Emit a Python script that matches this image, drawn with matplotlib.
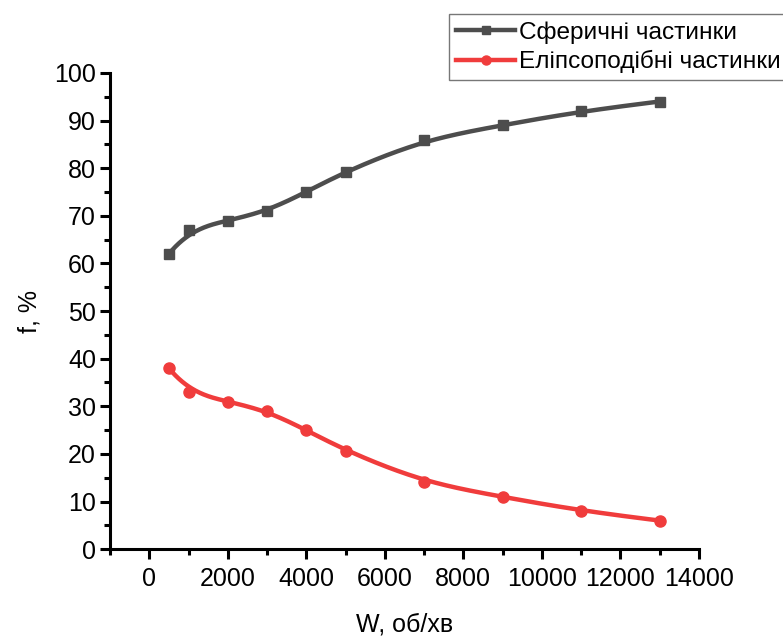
import matplotlib.pyplot as plt
import numpy as np
from matplotlib.ticker import MultipleLocator

plt.rcParams['font.family'] = ['Liberation Sans', 'DejaVu Sans']

# швидкість обертання, об/хв
w = [500, 1000, 2000, 3000, 4000, 5000, 7000, 9000, 11000, 13000]
# частка частинок, %
f_sph = [62, 67, 69, 71, 75, 79.3, 86, 89, 92, 94]
f_ell = [38, 33, 31, 29, 25, 20.7, 14, 11, 8, 6]

label_sph = 'Сферичні частинки'
label_ell = 'Еліпсоподібні частинки'


def bspline(x, y, n=500):
    # clamped cubic B-spline with the data points as control points
    P = np.column_stack([x, y]).astype(float)
    k = len(P)
    p = 3
    knots = np.concatenate([np.zeros(p), np.linspace(0, 1, k - p + 1), np.ones(p)])
    ts = np.linspace(0, 1 - 1e-9, n)
    out = []
    for t in ts:
        s = np.searchsorted(knots, t, side='right') - 1
        d = [P[j + s - p].copy() for j in range(p + 1)]
        for r in range(1, p + 1):
            for j in range(p, r - 1, -1):
                i = j + s - p
                a = (t - knots[i]) / (knots[i + 1 + p - r] - knots[i])
                d[j] = (1 - a) * d[j - 1] + a * d[j]
        out.append(d[p])
    out.append(P[-1])
    out = np.array(out)
    return out[:, 0], out[:, 1]


fig = plt.figure(figsize=(7.83, 6.4), dpi=100)
ax = fig.add_axes([0.1405, 0.142, 0.752, 0.744])

c_sph = '#4d4d4d'
c_ell = '#f03c3c'

xs, ys = bspline(w, f_sph)
ax.plot(xs, ys, color=c_sph, lw=3.2, solid_capstyle='round')
ax.plot(w, f_sph, 's', color=c_sph, ms=7.5)
xs, ys = bspline(w, f_ell)
ax.plot(xs, ys, color=c_ell, lw=3.2, solid_capstyle='round')
ax.plot(w, f_ell, 'o', color=c_ell, ms=8)

# legend handles
h1, = ax.plot([], [], '-s', color=c_sph, lw=3.2, ms=6)
h2, = ax.plot([], [], '-o', color=c_ell, lw=3.2, ms=6.5)

ax.set_xlim(-1000, 14000)
ax.set_ylim(0, 100)
ax.xaxis.set_major_locator(MultipleLocator(2000))
ax.xaxis.set_minor_locator(MultipleLocator(1000))
ax.yaxis.set_major_locator(MultipleLocator(10))
ax.yaxis.set_minor_locator(MultipleLocator(5))

ax.spines['top'].set_visible(False)
ax.spines['right'].set_visible(False)
for s in ['left', 'bottom']:
    ax.spines[s].set_linewidth(2.2)
ax.tick_params(which='major', direction='out', length=7, width=2.2, labelsize=18, pad=3)
ax.tick_params(axis='x', which='major', pad=6)
ax.tick_params(which='minor', direction='out', length=4, width=2.2)

ax.set_xlabel('W, об/хв', fontsize=18, labelpad=15)
ax.set_ylabel('f, %', fontsize=18, labelpad=9)

leg = fig.legend([h1, h2], [label_sph, label_ell], loc='upper left',
                 bbox_to_anchor=(449 / 783, 1 - 14 / 640), fontsize=17.6,
                 frameon=True, fancybox=False, handlelength=2.4,
                 handletextpad=0.15, borderpad=0.3, labelspacing=0.25,
                 borderaxespad=0)
leg.get_frame().set_edgecolor('#555555')
leg.get_frame().set_linewidth(1.0)

plt.savefig('out.png', dpi=100)
